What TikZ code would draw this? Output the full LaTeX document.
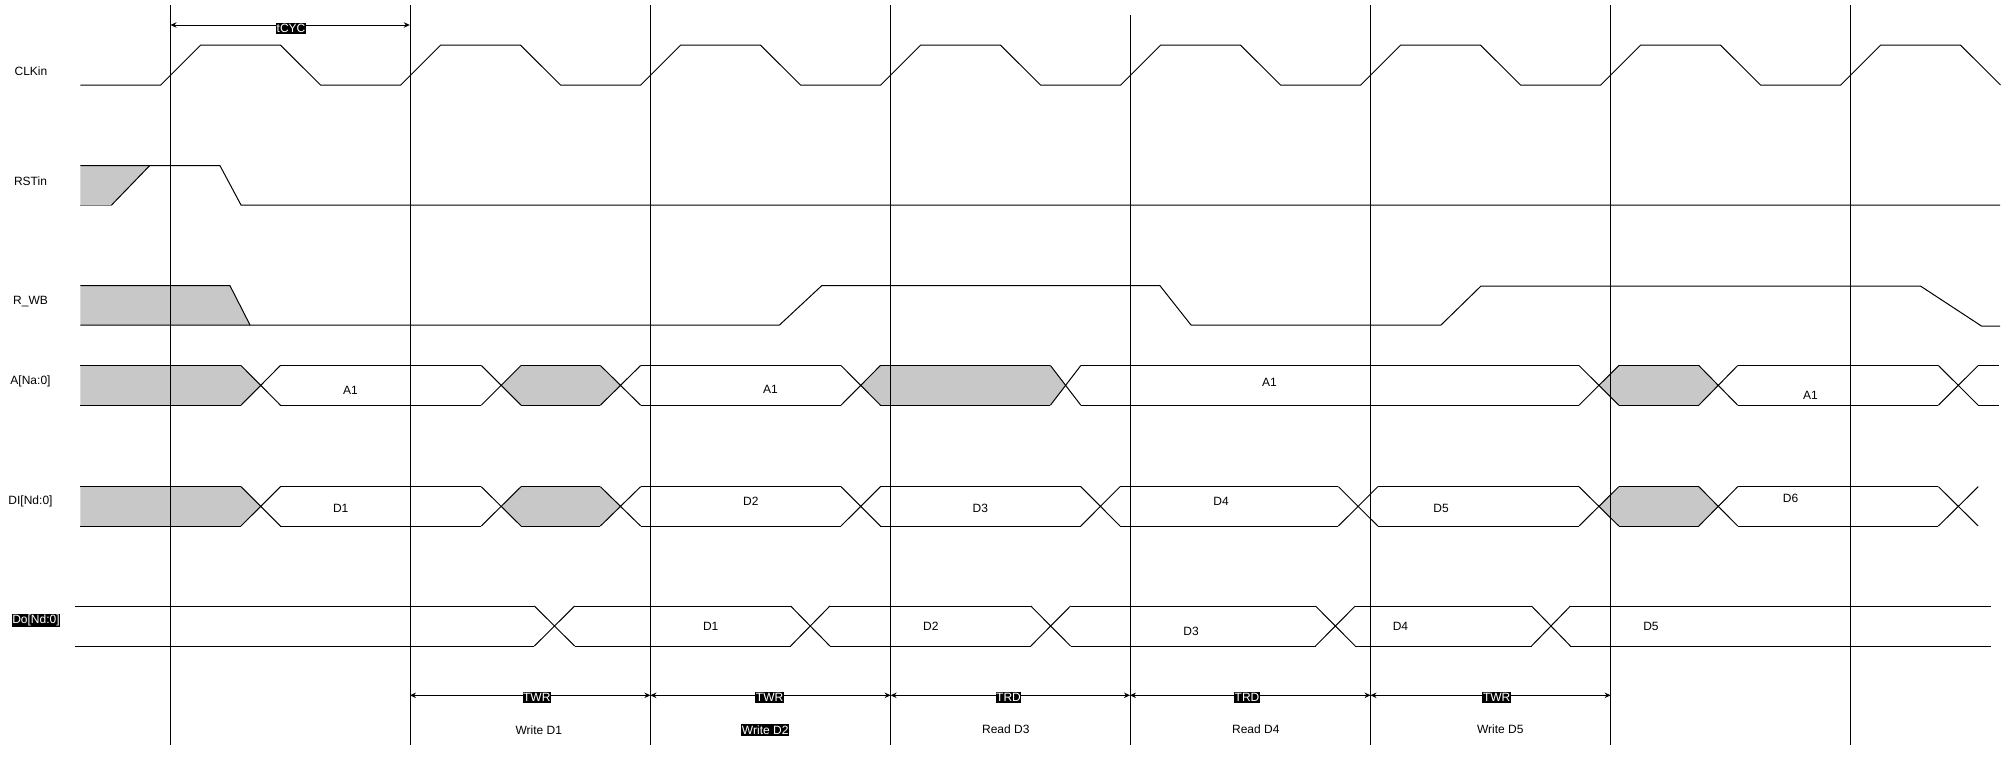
\documentclass[tikz,border=0pt]{standalone}
\usepackage{fontspec}
\setmainfont{Liberation Sans}
\usetikzlibrary{arrows.meta}
\definecolor{busgray}{RGB}{200,200,200}
\newcommand\busHex[4]{\fill[busgray] ({(#1+#2)/2},\M) -- (#2,\T) -- (#3,\T) -- ({(#3+#4)/2},\M) -- (#3,\B) -- (#2,\B) -- cycle;}
\newcommand\busX[2]{\draw[sig] (#1,\T) -- (#2,\B) (#1,\B) -- (#2,\T);}
\newcommand\busSeg[2]{\draw[sig] (#1,\T) -- (#2,\T) (#1,\B) -- (#2,\B);}
\begin{document}
\begin{tikzpicture}[x=1pt,y=-1pt,
  sig/.style={draw=black, line width=1pt, line join=miter},
  gridline/.style={draw=black, line width=1pt},
  lbl/.style={font=\fontsize{12}{14}\selectfont, inner sep=0pt},
  tag/.style={font=\fontsize{12}{14}\selectfont, fill=black, text=white, inner xsep=0.6pt, inner ysep=1.2pt},
  dim/.style={line width=1pt, {Stealth[length=6pt,width=5.5pt]}-{Stealth[length=6pt,width=5.5pt]}}]

\useasboundingbox (0,0) rectangle (2009,756);
\fill[white] (0,0) rectangle (2009,756);

% ---------- CLKin ----------
\draw[sig] (80.4,85) foreach \k in {0,...,7}{ -- ({160.7+240*\k},85) -- ({200.7+240*\k},45) -- ({280.4+240*\k},45) -- ({320.5+240*\k},85)};

% ---------- RSTin ----------
\fill[busgray] (80.4,165.7) -- (149.6,165.7) -- (111.6,205) -- (80.4,205) -- cycle;
\draw[sig] (80.4,165.7) -- (220,165.7) -- (241,205) -- (2000,205);
\draw[sig] (149.6,165.7) -- (111.6,205);
\draw[gray, line width=0.8pt] (80.4,205) -- (111.6,205);

% ---------- R_WB ----------
\fill[busgray] (80.4,285.7) -- (230,285.7) -- (250,325) -- (80.4,325) -- cycle;
\draw[sig] (80.4,285.7) -- (230,285.7) -- (250,325);
\draw[sig] (80.4,325) -- (779.5,325) -- (821.9,285.5) -- (1159.8,285.5) -- (1191,325) -- (1441,325) -- (1481,286) -- (1920.4,286) -- (1981.4,326) -- (2000,326);

% ---------- A[Na:0] ----------
\def\T{365.5}\def\B{405.2}\def\M{385.35}
\fill[busgray] (80.4,\T) -- (241,\T) -- (260.7,\M) -- (241,\B) -- (80.4,\B) -- cycle;
\busHex{481.3}{521}{600.4}{640.6}
\busHex{841}{880.4}{1050.4}{1080.8}
\busHex{1579}{1618.8}{1698.8}{1737.7}
\foreach \a/\b in {80.4/241, 280.4/481.3, 521/600.4, 640.6/841, 880.4/1050.4, 1080.8/1579, 1618.8/1698.8, 1737.7/1938.4, 1978.2/1998.6}{\busSeg{\a}{\b}}
\foreach \a/\b in {241/280.4, 481.3/521, 600.4/640.6, 841/880.4, 1050.4/1080.8, 1579/1618.8, 1698.8/1737.7, 1938.4/1978.2}{\busX{\a}{\b}}

% ---------- DI[Nd:0] ----------
\def\T{486.7}\def\B{526}\def\M{506.35}
\fill[busgray] (80.4,\T) -- (241,\T) -- (260.7,\M) -- (241,\B) -- (80.4,\B) -- cycle;
\busHex{481.3}{521}{600.4}{640.6}
\busHex{1579}{1618.8}{1698.8}{1737.7}
\foreach \a/\b in {80.4/241, 280.4/481.3, 521/600.4, 640.6/841, 880.4/1080.8, 1120/1338.4, 1377.8/1579, 1618.8/1698.8, 1737.7/1938.4}{\busSeg{\a}{\b}}
\foreach \a/\b in {241/280.4, 481.3/521, 600.4/640.6, 841/880.4, 1080.8/1120, 1338.4/1377.8, 1579/1618.8, 1698.8/1737.7, 1938.4/1978.2}{\busX{\a}{\b}}

% ---------- Do[Nd:0] ----------
\def\T{606}\def\B{646}\def\M{626}
\foreach \a/\b in {74.6/534.4, 574.6/790.6, 829.9/1030.8, 1070.5/1315.5, 1355.2/1531.5, 1570.4/1990.5}{\busSeg{\a}{\b}}
\foreach \a/\b in {534.4/574.6, 790.6/829.9, 1030.8/1070.5, 1315.5/1355.2, 1531.5/1570.4}{\busX{\a}{\b}}

% ---------- clock reference lines ----------
\foreach \x/\k in {170.5/0, 410/1, 650.4/2, 890.6/3, 1370.5/5, 1610.6/6, 1850.3/7}{
  \coordinate (vt\k) at (\x,5);
  \coordinate (vb\k) at (\x,745);
}
\coordinate (vt4) at (1130,15);
\coordinate (vb4) at (1130,745);
\foreach \k in {0,...,7}{\draw[gridline] (vt\k) -- (vb\k);}

% ---------- dimension arrows ----------
\coordinate (c0) at (170.5,25);
\coordinate (c1) at (409.8,25);
\draw[dim] (c0) -- (c1);
\foreach \x/\k in {410/1, 650.4/2, 890.6/3, 1130/4, 1370.5/5, 1610.6/6}{
  \coordinate (d\k) at (\x,695.3);
}
\draw[dim] (d1) -- (d2);
\draw[dim] (d2) -- (d3);
\draw[dim] (d3) -- (d4);
\draw[dim] (d4) -- (d5);
\draw[dim] (d5) -- (d6);

\node[tag] (tcyc) at (291,28.3) {tCYC};
\node[tag] (twr1) at (536.8,697.5) {TWR};
\node[tag] (twr2) at (769.6,697.5) {TWR};
\node[tag] (trd3) at (1008.5,697.5) {TRD};
\node[tag] (trd4) at (1247,697.5) {TRD};
\node[tag] (twr5) at (1496.7,697.5) {TWR};

\node[lbl] (op1) at (538.8,730.5) {Write D1};
\node[tag] (op2) at (765.2,730) {Write D2};
\node[lbl] (op3) at (1005.8,729.5) {Read D3};
\node[lbl] (op4) at (1255.8,729.5) {Read D4};
\node[lbl] (op5) at (1500.3,729.5) {Write D5};

% ---------- signal names ----------
\node[lbl] (nclk) at (31,71) {CLKin};
\node[lbl] (nrst) at (30.5,181.5) {RSTin};
\node[lbl] (nrwb) at (30.5,301.5) {R\_WB};
\node[lbl] (na) at (30.5,381.5) {A[Na:0]};
\node[lbl] (ndi) at (30.5,501) {DI[Nd:0]};
\node[tag] (ndo) at (36,620.5) {Do[Nd:0]};

% ---------- bus values ----------
\node[lbl] (a1) at (350.4,390) {A1};
\node[lbl] (a2) at (770.5,389.5) {A1};
\node[lbl] (a3) at (1269.5,382.5) {A1};
\node[lbl] (a4) at (1810.5,395) {A1};

\node[lbl] (i1) at (340.7,508.5) {D1};
\node[lbl] (i2) at (750.9,501.5) {D2};
\node[lbl] (i3) at (980.4,508.5) {D3};
\node[lbl] (i4) at (1221,501.5) {D4};
\node[lbl] (i5) at (1441,508.5) {D5};
\node[lbl] (i6) at (1790.6,498.5) {D6};

\node[lbl] (o1) at (710.7,626.5) {D1};
\node[lbl] (o2) at (930.8,626.5) {D2};
\node[lbl] (o3) at (1191,631) {D3};
\node[lbl] (o4) at (1400.4,626.5) {D4};
\node[lbl] (o5) at (1650.9,626.5) {D5};
\end{tikzpicture}
\end{document}
